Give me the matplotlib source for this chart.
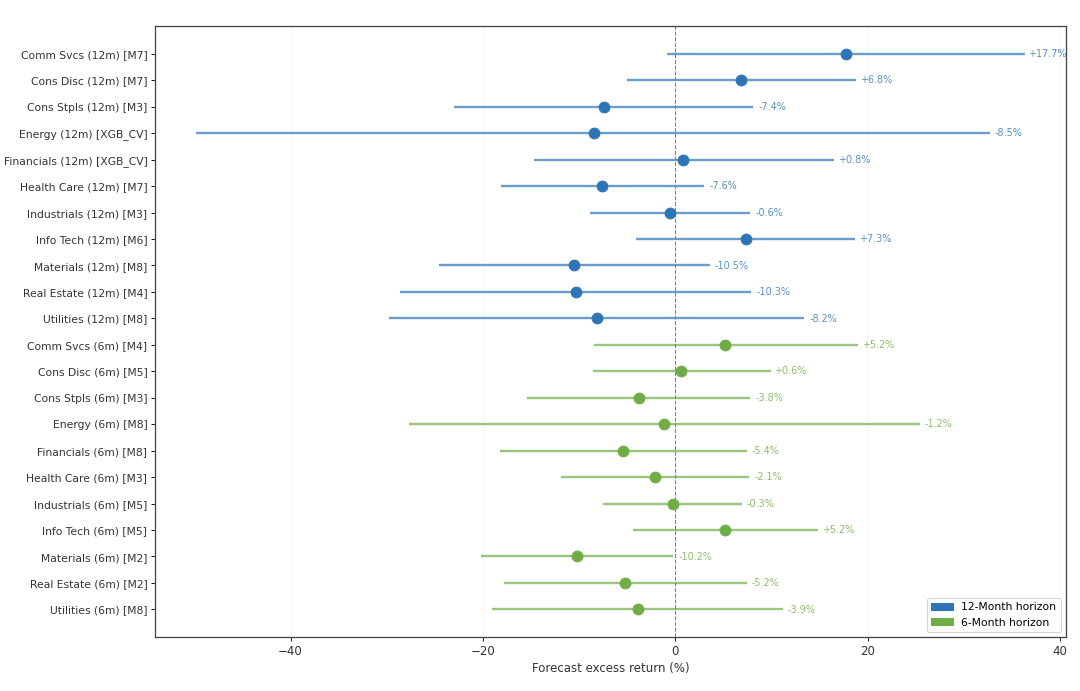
import matplotlib
matplotlib.use('Agg')
import matplotlib.pyplot as plt
from matplotlib.patches import Patch

sectors = ['Comm Svcs', 'Cons Disc', 'Cons Stpls', 'Energy', 'Financials',
           'Health Care', 'Industrials', 'Info Tech', 'Materials',
           'Real Estate', 'Utilities']

# 12-month horizon
models_12 = ['M7', 'M7', 'M3', 'XGB_CV', 'XGB_CV', 'M7', 'M3', 'M6', 'M8', 'M4', 'M8']
point_12 = [17.7, 6.8, -7.4, -8.5, 0.8, -7.6, -0.6, 7.3, -10.5, -10.3, -8.2]
low_12 = [-0.9, -5.0, -23.0, -49.8, -14.7, -18.1, -8.9, -4.1, -24.6, -28.6, -29.8]
high_12 = [36.3, 18.8, 8.1, 32.7, 16.5, 3.0, 7.8, 18.7, 3.6, 7.9, 13.4]

# 6-month horizon
models_6 = ['M4', 'M5', 'M3', 'M8', 'M8', 'M3', 'M5', 'M5', 'M2', 'M2', 'M8']
point_6 = [5.2, 0.6, -3.8, -1.2, -5.4, -2.1, -0.3, 5.2, -10.2, -5.2, -3.9]
low_6 = [-8.5, -8.6, -15.4, -27.7, -18.2, -11.9, -7.5, -4.4, -20.2, -17.8, -19.1]
high_6 = [19.0, 9.9, 7.8, 25.4, 7.4, 7.7, 6.9, 14.8, -0.2, 7.4, 11.2]

blue = '#2E75B6'
green = '#70AD47'

fig = plt.figure(figsize=(14, 8.96), dpi=1080 / 14)
ax = fig.add_axes([0.1435, 0.078, 0.8435, 0.884])

labels = []
rows = []
for s, m, p, lo, hi in zip(sectors, models_12, point_12, low_12, high_12):
    labels.append(f'{s} (12m) [{m}]')
    rows.append((p, lo, hi, blue))
for s, m, p, lo, hi in zip(sectors, models_6, point_6, low_6, high_6):
    labels.append(f'{s} (6m) [{m}]')
    rows.append((p, lo, hi, green))

n = len(rows)
for i, (p, lo, hi, c) in enumerate(rows):
    y = n - 1 - i
    ax.plot([lo, hi], [y, y], color=c, lw=2.2, alpha=0.7, solid_capstyle='butt')
    ax.plot(p, y, 'o', color=c, markersize=10, zorder=3)
    ax.text(hi + 0.5, y, f'{p:+.1f}%', color=c, alpha=0.8, fontsize=9,
            va='center', ha='left')

ax.axvline(0, color='gray', lw=1, ls='--')
ax.set_yticks(range(n))
ax.set_yticklabels(labels[::-1], fontsize=10, color='#333333')
ax.set_xlim(-54.1, 40.6)
ax.set_xticks([-40, -20, 0, 20, 40])
ax.tick_params(axis='x', labelsize=11, labelcolor='#333333')
ax.set_xlabel('Forecast excess return (%)', fontsize=11, color='#333333')
ax.grid(axis='x', alpha=0.3, ls=':')
ax.set_axisbelow(True)
for sp in ax.spines.values():
    sp.set_color('#444444')
    sp.set_linewidth(1.2)

handles = [Patch(color=blue, label='12-Month horizon'),
           Patch(color=green, label='6-Month horizon')]
ax.legend(handles=handles, loc='lower right', fontsize=10)

fig.savefig('out.png', dpi=1080 / 14)
